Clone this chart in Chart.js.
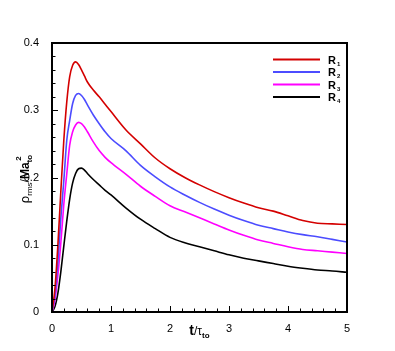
<!DOCTYPE html>
<html>
<head>
<meta charset="utf-8">
<script src="https://cdn.jsdelivr.net/npm/chart.js@4.4.1/dist/chart.umd.min.js"></script>
<style>
  html, body { margin: 0; padding: 0; background: #fff; }
  #wrap { width: 395px; height: 351px; }
</style>
</head>
<body>
<div id="wrap"><canvas id="myChart" width="395" height="351"></canvas></div>
<script>
// t / tau_to sample positions
var tValues = [0, 0.05, 0.1, 0.15, 0.2, 0.25, 0.3, 0.35, 0.4, 0.45, 0.5, 0.55, 0.6, 0.7, 0.8, 0.9, 1.0,
               1.25, 1.5, 1.75, 2.0, 2.25, 2.5, 2.75, 3.0, 3.25, 3.5, 3.75, 4.0, 4.25, 4.5, 4.75, 5.0];

var r1 = [0, 0.035, 0.100, 0.180, 0.255, 0.312, 0.350, 0.367, 0.372, 0.368, 0.360, 0.351, 0.342, 0.330, 0.320, 0.309, 0.298,
          0.271, 0.250, 0.229, 0.213, 0.200, 0.189, 0.179, 0.170, 0.162, 0.155, 0.150, 0.143, 0.136, 0.132, 0.131, 0.130];
var r2 = [0, 0.025, 0.075, 0.140, 0.195, 0.255, 0.285, 0.310, 0.322, 0.325, 0.322, 0.316, 0.308, 0.293, 0.280, 0.268, 0.258,
          0.240, 0.218, 0.201, 0.186, 0.174, 0.163, 0.153, 0.144, 0.136, 0.129, 0.124, 0.119, 0.115, 0.112, 0.108, 0.104];
var r3 = [0, 0.018, 0.055, 0.103, 0.160, 0.205, 0.248, 0.268, 0.278, 0.282, 0.280, 0.275, 0.268, 0.253, 0.240, 0.230, 0.222,
          0.205, 0.187, 0.172, 0.158, 0.149, 0.140, 0.131, 0.122, 0.114, 0.107, 0.102, 0.097, 0.093, 0.091, 0.089, 0.087];
var r4 = [0, 0.008, 0.028, 0.060, 0.098, 0.135, 0.168, 0.192, 0.206, 0.213, 0.214, 0.211, 0.206, 0.197, 0.189, 0.181, 0.174,
          0.155, 0.138, 0.124, 0.111, 0.103, 0.097, 0.091, 0.085, 0.080, 0.076, 0.072, 0.068, 0.065, 0.0625, 0.061, 0.059];

var seriesNames = ['1', '2', '3', '4'];
var xTicks = [0, 1, 2, 3, 4, 5];
var yTicks = [0, 0.1, 0.2, 0.3, 0.4];

function pts(vals) {
  return tValues.map(function (t, i) { return { x: t, y: vals[i] }; });
}

var FONT = '"Liberation Sans", Arial, Helvetica, sans-serif';

// draws box, inward ticks, axis titles with sub/superscripts and the legend
var decor = {
  id: 'decor',
  afterDraw: function (chart) {
    var ctx = chart.ctx, a = chart.chartArea;
    var xs = chart.scales.x, ys = chart.scales.y;
    ctx.save();
    ctx.strokeStyle = '#000';
    ctx.lineWidth = 1;
    // x ticks
    for (var i = 0; i <= 25; i++) {
      var v = i * 0.2;
      var px = Math.round(xs.getPixelForValue(v)) + 0.5;
      var len = (i % 5 === 0) ? 6 : 3.5;
      ctx.beginPath(); ctx.moveTo(px, a.bottom); ctx.lineTo(px, a.bottom - len); ctx.stroke();
    }
    // y ticks
    for (var j = 0; j <= 20; j++) {
      var vy = j * 0.02;
      var py = Math.round(ys.getPixelForValue(vy)) + 0.5;
      var ly = (j % 5 === 0) ? 6 : 3.5;
      ctx.beginPath(); ctx.moveTo(a.left, py); ctx.lineTo(a.left + ly, py); ctx.stroke();
    }
    // frame
    ctx.lineWidth = 2;
    ctx.strokeRect(a.left, a.top, a.right - a.left, a.bottom - a.top);

    ctx.fillStyle = '#000';
    ctx.textBaseline = 'alphabetic';
    ctx.textAlign = 'left';

    // x title: t/τ_to
    var parts = [
      { t: 't', f: 'bold 14px ' + FONT, dy: 0 },
      { t: '/τ', f: '12px ' + FONT, dy: 0 },
      { t: 'to', f: 'bold 8px ' + FONT, dy: 3 }
    ];
    drawParts(ctx, parts, (a.left + a.right) / 2, 335);

    // y title: ρ_rms/Ma_to^2 rotated
    ctx.save();
    ctx.translate(29, 179);
    ctx.rotate(-Math.PI / 2);
    var yparts = [
      { t: 'ρ', f: '13px ' + FONT, dy: 0 },
      { t: 'rms', f: '8px ' + FONT, dy: 3 },
      { t: '/', f: '12px ' + FONT, dy: 0 },
      { t: 'Ma', f: 'bold 12px ' + FONT, dy: 0 },
      { t: 'to', f: 'bold 8px ' + FONT, dy: 3, keep: true },
      { t: '2', f: 'bold 8px ' + FONT, dy: -8 }
    ];
    drawParts(ctx, yparts, 0, 0);
    ctx.restore();

    // legend
    var ds = chart.data.datasets;
    for (var k = 0; k < ds.length; k++) {
      var ly2 = 59.5 + k * 12.5;
      ctx.strokeStyle = ds[k].borderColor;
      ctx.lineWidth = 2;
      ctx.beginPath(); ctx.moveTo(273, ly2); ctx.lineTo(320, ly2); ctx.stroke();
      ctx.fillStyle = '#000';
      ctx.font = 'bold 11px ' + FONT;
      ctx.fillText('R', 328, ly2 + 4);
      var w = ctx.measureText('R').width;
      ctx.font = 'bold 6px ' + FONT;
      ctx.fillText(ds[k].label, 328 + w + 1, ly2 + 6);
    }
    ctx.restore();
  }
};

function drawParts(ctx, parts, cx, base) {
  var total = 0, widths = [];
  for (var i = 0; i < parts.length; i++) {
    ctx.font = parts[i].f;
    var w = ctx.measureText(parts[i].t).width;
    widths.push(w);
    total += w;
  }
  // superscript stacked over a subscript takes no extra width
  for (var m = 0; m < parts.length; m++) if (parts[m].keep) total -= widths[m + 1] || 0;
  var x = cx - total / 2;
  for (var n = 0; n < parts.length; n++) {
    ctx.font = parts[n].f;
    ctx.fillText(parts[n].t, x, base + parts[n].dy);
    if (parts[n].keep && n + 1 < parts.length) {
      ctx.font = parts[n + 1].f;
      ctx.fillText(parts[n + 1].t, x + (widths[n] - widths[n + 1]) / 2, base + parts[n + 1].dy);
      x += widths[n];
      n++;
      continue;
    }
    x += widths[n];
  }
}

var ctx = document.getElementById('myChart');
var myChart = new Chart(ctx, {
  type: 'line',
  data: {
    datasets: [
      { label: seriesNames[0], data: pts(r1), borderColor: '#d40000', borderWidth: 1.6 },
      { label: seriesNames[1], data: pts(r2), borderColor: '#4c4cff', borderWidth: 1.6 },
      { label: seriesNames[2], data: pts(r3), borderColor: '#ff00ff', borderWidth: 1.6 },
      { label: seriesNames[3], data: pts(r4), borderColor: '#000000', borderWidth: 1.6 }
    ]
  },
  options: {
    responsive: false,
    animation: false,
    layout: { padding: { left: 0, top: 43, right: 48, bottom: 0 } },
    elements: { point: { radius: 0 }, line: { cubicInterpolationMode: 'monotone', fill: false } },
    plugins: { legend: { display: false }, tooltip: { enabled: false } },
    scales: {
      x: {
        type: 'linear', min: 0, max: 5,
        afterFit: function (s) { s.height = 39; },
        afterBuildTicks: function (s) { s.ticks = xTicks.map(function (v) { return { value: v }; }); },
        grid: { display: false },
        border: { display: false },
        ticks: { padding: 2, color: '#000', font: { family: FONT, size: 11 }, maxRotation: 0 }
      },
      y: {
        type: 'linear', min: 0, max: 0.4,
        afterFit: function (s) { s.width = 52; },
        afterBuildTicks: function (s) { s.ticks = yTicks.map(function (v) { return { value: v }; }); },
        grid: { display: false },
        border: { display: false },
        ticks: { padding: 5, color: '#000', font: { family: FONT, size: 11 },
                 callback: function (v) { return String(Math.round(v * 10) / 10); } }
      }
    }
  },
  plugins: [decor]
});
</script>
</body>
</html>
